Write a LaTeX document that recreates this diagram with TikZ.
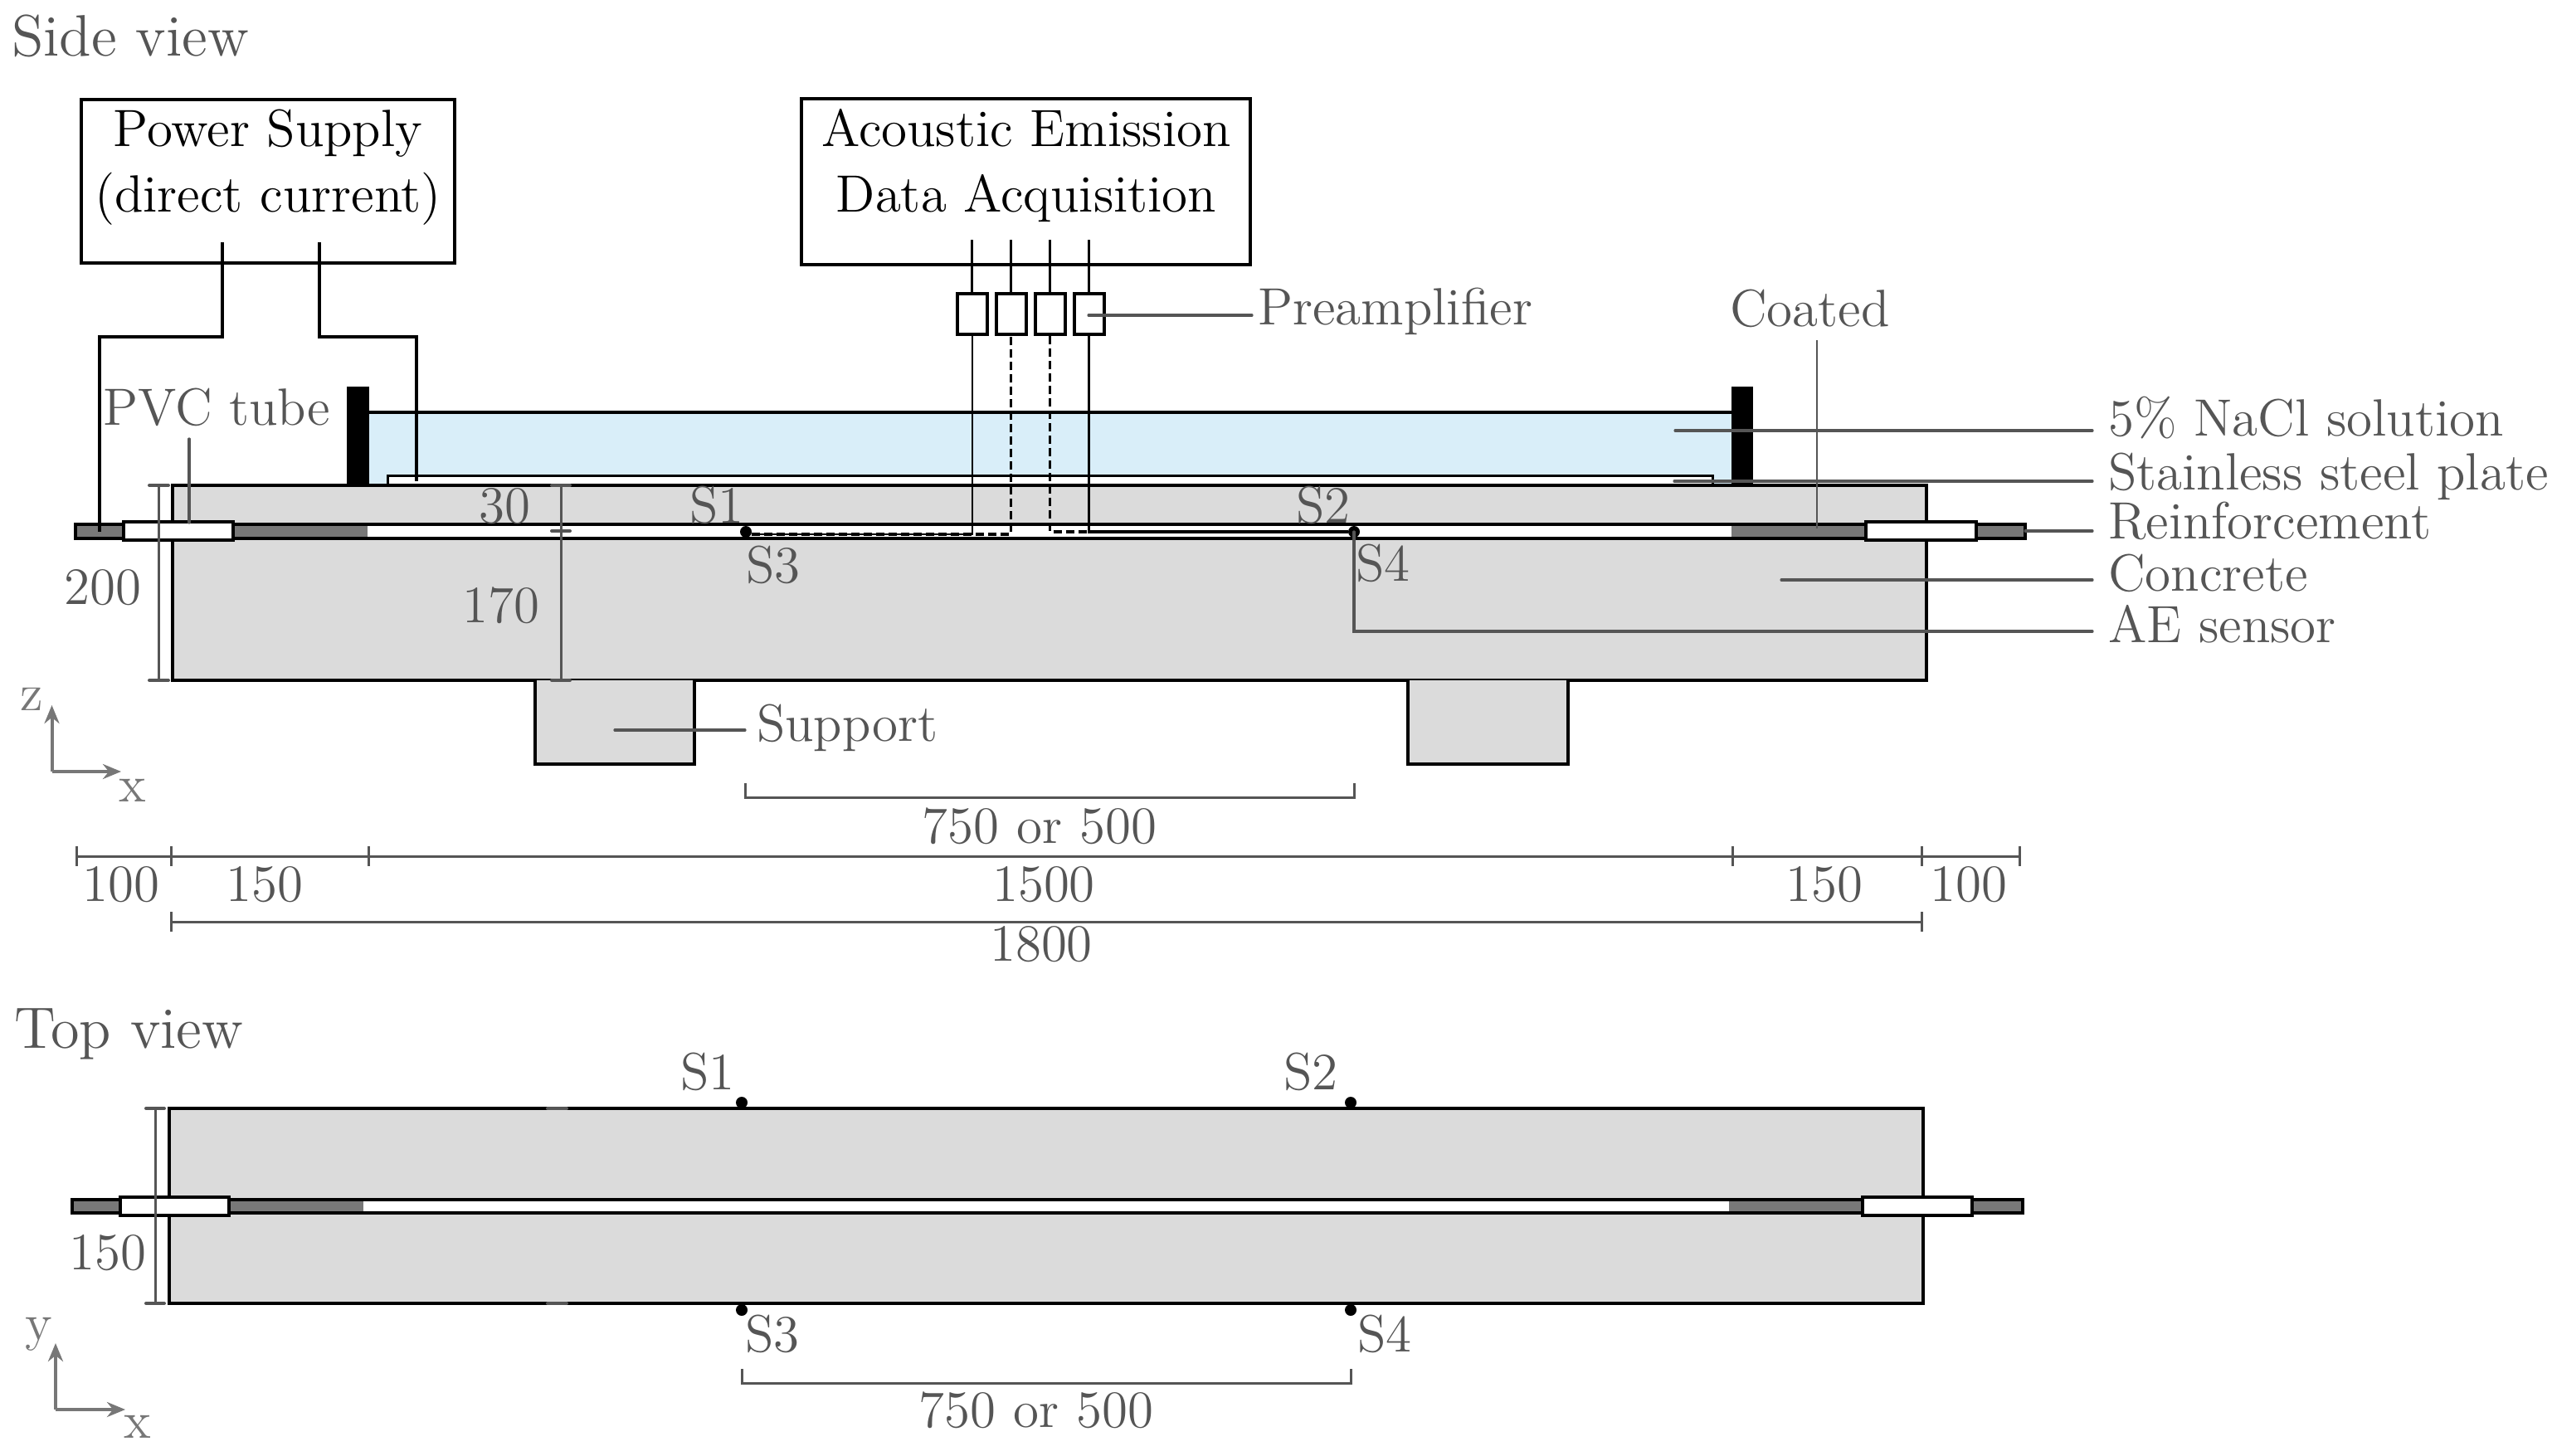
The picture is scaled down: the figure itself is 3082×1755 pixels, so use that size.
\documentclass[tikz,border=0pt]{standalone}
\usepackage{fontspec}
\setmainfont{lmroman12-regular.otf}
\usetikzlibrary{arrows.meta,calc}
\definecolor{conc}{HTML}{DBDBDB}
\definecolor{steel}{HTML}{787878}
\definecolor{water}{HTML}{D9EEF9}
\definecolor{lab}{HTML}{555555}
\definecolor{axis}{HTML}{777777}
\tikzset{
 txt/.style={anchor=base west,inner sep=0pt,text=lab,font=\fontsize{63.2}{70}\selectfont},
 ctxt/.style={anchor=base,inner sep=0pt,text=lab,font=\fontsize{63.2}{70}\selectfont},
 btxt/.style={anchor=base,inner sep=0pt,text=black,font=\fontsize{63.2}{70}\selectfont},
 head/.style={anchor=base west,inner sep=0pt,text=lab,font=\fontsize{70.5}{78}\selectfont},
 obj/.style={draw=black,line width=4pt},
 wire/.style={draw=black,line width=3.5pt},
 lead/.style={draw=lab,line width=3.2pt,line cap=round},
 dimline/.style={draw=lab,line width=3pt},
 ax/.style={draw=axis,line width=4pt,-{Stealth[length=22pt,width=18pt]}},
 dwire/.style={draw=black,line width=3.5pt,dash pattern=on 10pt off 5pt},
 sensor/.style={circle,fill=black,inner sep=0pt,minimum size=14pt},
 pre/.style={rectangle,draw=black,fill=white,line width=4pt,minimum width=36pt,minimum height=49pt,inner sep=0pt},
}
\begin{document}
\begin{tikzpicture}[x=1pt,y=-1pt]
\useasboundingbox (0,0) rectangle (3082,1755);
% ---------------- SIDE VIEW ----------------
\node[head] (sideview) at (14,68) {Side view};
% boxes
\node[draw=black,line width=4pt,minimum width=450pt,minimum height=197pt,inner sep=0pt] (power) at (323,218.5) {};
\node[btxt] (powerA) at (323,177) {Power Supply};
\node[btxt] (powerB) at (323,255) {(direct current)};
\node[draw=black,line width=4pt,minimum width=541pt,minimum height=200pt,inner sep=0pt] (aebox) at (1236.5,219) {};
\node[btxt] (aeA) at (1237,177) {Acoustic Emission};
\node[btxt] (aeB) at (1237,255) {Data Acquisition};
% water
\fill[water] (445,497) rectangle (2087,585);
\draw[obj] (445,497) -- (2087,497);
% steel plate
\draw[draw=black,fill=white,line width=3pt] (467,585) -- (467,573) -- (2064,573) -- (2064,585);
% beam
\draw[obj,fill=conc] (208,585) rectangle (2322,820);
% end plates
\fill[black] (418,466) rectangle (445,585);
\fill[black] (2087,466) rectangle (2113,585);
% supports
\draw[obj,fill=conc] (645,820) -- (645,921) -- (837,921) -- (837,820);
\draw[obj,fill=conc] (1697,820) -- (1697,921) -- (1890,921) -- (1890,820);
% bar
\draw[obj,line width=3.5pt,fill=white] (91,632) rectangle (2441,649);
\fill[steel] (93,634) rectangle (149,647);
\fill[steel] (281,634) rectangle (443,647);
\fill[steel] (2087,634) rectangle (2249,647);
\fill[steel] (2382,634) rectangle (2439,647);
\draw[obj,fill=white] (149,629) rectangle (281,651);
\draw[obj,fill=white] (2249,629) rectangle (2382,651);
% preamps
\foreach \n/\x in {1/1171.5,2/1218.5,3/1265.5,4/1312.5}{
  \node[pre] (p\n) at (\x,378.5) {};
  \coordinate (t\n) at (\x,289);
  \draw[wire,line width=3pt] (t\n) -- (p\n.north);
}
% sensors
\node[sensor] (s1) at (899,641) {};
\node[sensor] (s2) at (1632,641) {};
% sensor wires
\coordinate (c1) at (1171.5,644);
\coordinate (c2) at (1218.5,644);
\coordinate (c3) at (1265.5,641);
\coordinate (c4) at (1312.5,641);
\draw[draw=black,line width=2pt] (p1.south) -- (c1) -- (s1.east |- c1);
\draw[dwire] (s1.east |- c1) -- (c2) -- (p2.south);
\draw[dwire] (p3.south) -- (c3) -- (c4);
\draw[wire,line width=3.5pt] (p4.south) -- (c4) -- (s2);
% power wires
\coordinate (w1a) at (268,292);
\coordinate (w1b) at (268,406);
\coordinate (w1c) at (120,406);
\coordinate (w1d) at (120,641);
\coordinate (w2a) at (385,292);
\coordinate (w2b) at (385,406);
\coordinate (w2c) at (502,406);
\coordinate (w2d) at (502,580);
\draw[wire] (w1a) -- (w1b) -- (w1c) -- (w1d);
\draw[wire] (w2a) -- (w2b) -- (w2c) -- (w2d);
% dimensions inside
\draw[dimline] (191,585) -- (191,820);
\draw[dimline,line width=4pt,line cap=round] (180,585) -- (203,585) (180,820) -- (203,820);
\draw[dimline] (676,585) -- (676,820);
\draw[dimline,line width=4pt,line cap=round] (665,585) -- (687,585) (665,640) -- (687,640) (665,820) -- (687,820);
% labels side
\node[txt] (pvc) at (124,512) {PVC tube};
\node[txt] (d200) at (77,728) {200};
\node[txt] (d170) at (557,750) {170};
\node[txt] (d30) at (577,630) {30};
\node[txt] (ls1) at (831,630) {S1};
\node[txt] (ls3) at (899,702) {S3};
\node[txt] (ls2) at (1562,630) {S2};
\node[txt] (ls4) at (1634,700) {S4};
\node[txt] (support) at (912,893) {Support};
\node[txt] (preamp) at (1516,391) {Preamplifier};
\node[txt] (coated) at (2085,393) {Coated};
\node[txt] (nacl) at (2541,525) {5\% NaCl solution};
\node[txt] (plate) at (2541,590) {Stainless steel plate};
\node[txt] (reinf) at (2541,649) {Reinforcement};
\node[txt] (concrete) at (2541,712) {Concrete};
\node[txt] (aes) at (2541,774) {AE sensor};
% leaders
\coordinate (lp) at (228,529);
\coordinate (lp2) at (228,630);
\draw[lead] (lp) -- (lp2);
\coordinate (ls) at (741,880);
\draw[lead] (ls) -- ($(support.west |- ls)+(-14,0)$);
\coordinate (lpa) at (1312,380);
\draw[lead] (lpa) -- ($(preamp.west |- lpa)+(-7,0)$);
\coordinate (lc) at (2190,410);
\coordinate (lc2) at (2190,637);
\draw[draw=lab,line width=2.5pt] (lc) -- (lc2);
\coordinate (ln) at (2019,519);
\draw[lead] (ln) -- ($(nacl.west |- ln)+(-19,0)$);
\coordinate (lst) at (2018,580);
\draw[lead] (lst) -- ($(plate.west |- lst)+(-19,0)$);
\coordinate (lr) at (2441,640);
\draw[lead] (lr) -- ($(reinf.west |- lr)+(-19,0)$);
\coordinate (lco) at (2147,699);
\draw[lead] (lco) -- ($(concrete.west |- lco)+(-19,0)$);
\coordinate (lae) at (1632,761);
\draw[lead] (s2.center) -- (lae) -- ($(aes.west |- lae)+(-19,0)$);
% axes side
\coordinate (o1) at (62.5,930);
\draw[ax] (o1) -- (62.5,850);
\draw[ax] (o1) -- (146,930);
\node[ctxt,text=axis] (z1) at (38,856) {z};
\node[ctxt,text=axis] (x1) at (160,966) {x};
% dims below
\coordinate (da) at (898,961); \coordinate (db) at (1632,961);
\draw[dimline] (898,944) -- (da) -- (db) -- (1632,944);
\node[ctxt] (d750a) at (1253,1016) {750 or 500};
\draw[dimline] (92,1032) -- (2434,1032);
\foreach \x in {92,206,444,2088,2316,2434}{\draw[dimline] (\x,1020) -- (\x,1044);}
\node[ctxt] (n1) at (146,1086) {100};
\node[ctxt] (n2) at (319,1086) {150};
\node[ctxt] (n3) at (1258,1086) {1500};
\node[ctxt] (n4) at (2199,1086) {150};
\node[ctxt] (n5) at (2373,1086) {100};
\draw[dimline] (206,1111) -- (2316,1111);
\foreach \x in {206,2316}{\draw[dimline] (\x,1099) -- (\x,1123);}
\node[ctxt] (n6) at (1255,1158) {1800};
% ---------------- TOP VIEW ----------------
\node[head] (topview) at (17,1263) {Top view};
\draw[obj,fill=conc] (204,1336) rectangle (2318,1571);
\draw[dimline,line width=4pt,line cap=round] (660,1336) -- (683,1336) (660,1571) -- (683,1571);
\draw[obj,line width=3.5pt,fill=white] (87,1446) rectangle (2438,1462);
\fill[steel] (89,1448) rectangle (145,1460);
\fill[steel] (276,1448) rectangle (438,1460);
\fill[steel] (2084,1448) rectangle (2245,1460);
\fill[steel] (2377,1448) rectangle (2436,1460);
\draw[obj,fill=white] (145,1443) rectangle (276,1465);
\draw[obj,fill=white] (2245,1443) rectangle (2377,1465);
\draw[dimline] (187,1336) -- (187,1571);
\draw[dimline,line width=4pt,line cap=round] (176,1336) -- (198,1336) (176,1571) -- (198,1571);
\node[txt] (d150) at (83,1530) {150};
\node[sensor] (t1) at (894,1329) {};
\node[sensor] (t2) at (1628,1329) {};
\node[sensor] (t3) at (894,1579) {};
\node[sensor] (t4) at (1628,1579) {};
\node[txt] (lt1) at (820,1313) {S1};
\node[txt] (lt2) at (1547,1313) {S2};
\node[txt] (lt3) at (898,1629) {S3};
\node[txt] (lt4) at (1636,1629) {S4};
\coordinate (ea) at (894,1667); \coordinate (eb) at (1628,1667);
\draw[dimline] (894,1650) -- (ea) -- (eb) -- (1628,1650);
\node[ctxt] (d750b) at (1249,1720) {750 or 500};
\coordinate (o2) at (67,1699);
\draw[ax] (o2) -- (67,1619);
\draw[ax] (o2) -- (151,1699);
\node[ctxt,text=axis] (y2) at (47,1615) {y};
\node[ctxt,text=axis] (x2) at (166,1733) {x};
\end{tikzpicture}
\end{document}
